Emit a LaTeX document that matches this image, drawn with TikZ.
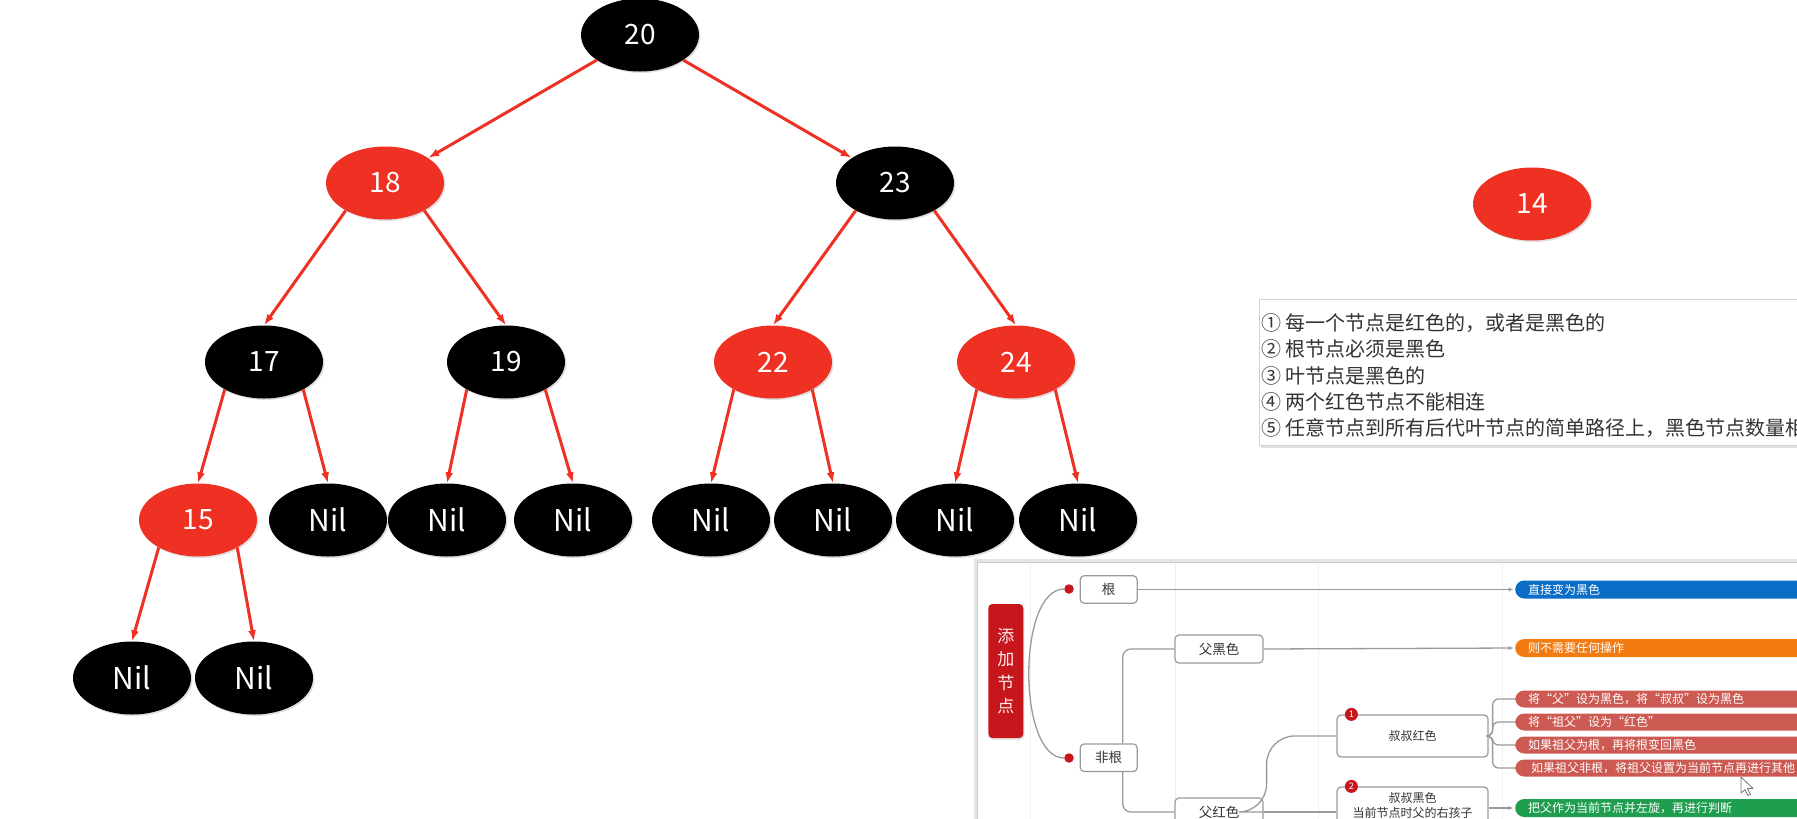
\documentclass[tikz,border=0pt]{standalone}
\usepackage{fontspec}
\setmainfont{Noto Sans CJK SC}
\usepackage{tikz}
\usetikzlibrary{arrows.meta,shapes.geometric,shadows}
\definecolor{rbred}{HTML}{EF3124}
\definecolor{mmgray}{HTML}{9A9A9A}
\definecolor{mmred}{HTML}{C8161D}
\definecolor{barblue}{HTML}{0B6DC6}
\definecolor{barorange}{HTML}{F27B12}
\definecolor{barsalmon}{HTML}{CC5952}
\definecolor{bargreen}{HTML}{1E9E4E}
\definecolor{textgray}{HTML}{333333}

\begin{document}
\begin{tikzpicture}[x=1pt,y=-1pt,
    rbnode/.style={ellipse,minimum width=118pt,minimum height=73pt,inner sep=0pt,text=white,
      font=\fontsize{28pt}{30pt}\selectfont,drop shadow={opacity=0.25,shadow xshift=1.5pt,shadow yshift=-1.5pt}},
    bnode/.style={rbnode,fill=black},
    rnode/.style={rbnode,fill=rbred},
    nil/.style={bnode,font=\fontsize{30pt}{32pt}\selectfont},
    link/.style={rbred,line width=3pt,-{Latex[length=11pt,width=8pt]}},
    mmline/.style={mmgray,line width=1.3pt},
    mmbox/.style={draw=mmgray,fill=white,rounded corners=4pt,line width=1.2pt,inner sep=0pt,
      text=textgray,font=\fontsize{13.5pt}{15pt}\selectfont},
    mmbar/.style={anchor=west,minimum height=18pt,text width=280pt,inner xsep=13pt,inner ysep=0pt,
      rounded corners=9pt,text=white,align=left,font=\fontsize{12pt}{13pt}\selectfont},
    dot/.style={circle,fill=mmred,minimum size=9.5pt,inner sep=0pt},
    badge/.style={circle,fill=mmred,text=white,inner sep=0pt,minimum size=13pt,font=\fontsize{9pt}{9pt}\selectfont},
    rule/.style={anchor=west,inner sep=0pt,text=textgray,font=\fontsize{20pt}{22pt}\selectfont}]
  \useasboundingbox (0,0) rectangle (1797,819);
  \clip (0,0) rectangle (1797,819);

  \node[bnode] (n20) at (640,35) {20};
  \node[rnode] (n18) at (385,183) {18};
  \node[bnode] (n23) at (895,183) {23};
  \node[bnode] (n17) at (264,362) {17};
  \node[bnode] (n19) at (506,362) {19};
  \node[rnode] (n22) at (773,362) {22};
  \node[rnode] (n24) at (1016,362) {24};
  \node[rnode] (n15) at (198,520) {15};
  \foreach \x/\n in {328/a,447/b,573/c,711/d,833/e,955/f,1078/g}
    \node[nil] (nil\n) at (\x,520) {Nil};
  \node[nil] (nilh) at (132,678) {Nil};
  \node[nil] (nili) at (254,678) {Nil};
  \node[rnode] (n14) at (1532,204) {14};

  \draw[link] (n20) -- (n18);
  \draw[link] (n20) -- (n23);
  \foreach \p/\l/\r in {n18/n17/n19,n23/n22/n24,n17/n15/nila,n19/nilb/nilc,n22/nild/nile,n24/nilf/nilg,n15/nilh/nili}{
    \draw[link] (\p.215) -- (\l.north);
    \draw[link] (\p.325) -- (\r.north);
  }

  \fill[black!12] (1261,302) rectangle (1812,448);
  \draw[draw=black!18,fill=white] (1259,299) rectangle (1810,445);
  \foreach \t [count=\k] in {① 每一个节点是红色的，或者是黑色的,② 根节点必须是黑色,③ 叶节点是黑色的,④ 两个红色节点不能相连,⑤ 任意节点到所有后代叶节点的简单路径上，黑色节点数量相}
    \node[rule] (rule\k) at (1261,{296.5+26.3*\k}) {\t};

  \fill[black!10] (974,559) rectangle (1820,840);
  \draw[draw=black!20,fill=white] (977,562) rectangle (1820,840);
  \foreach \x in {1030,1175,1318,1502}
    \draw[black!6] (\x,563) -- (\x,819);

  \node[fill=mmred,rounded corners=4pt,minimum width=35pt,minimum height=134pt,inner sep=0pt,
    text=red!8,align=center,font=\fontsize{17pt}{23.3pt}\selectfont,
    drop shadow={opacity=0.2,shadow xshift=1pt,shadow yshift=-2pt}] (add) at (1005.8,671) {添\\加\\节\\点};

  \node[mmbox,minimum width=57pt,minimum height=27.5pt] (gen) at (1108.7,589.5) {根};
  \node[mmbox,minimum width=57pt,minimum height=27.5pt] (feigen) at (1108.7,757.7) {非根};
  \node[mmbox,minimum width=88pt,minimum height=28pt] (fuB) at (1219,649) {父黑色};
  \node[mmbox,minimum width=88pt,minimum height=28pt] (fuR) at (1219,812) {父红色};
  \node[mmbox,minimum width=151pt,minimum height=42pt,font=\fontsize{12pt}{14pt}\selectfont] (uncleR) at (1412.5,736) {叔叔红色};
  \node[mmbox,minimum width=151pt,minimum height=37pt,align=center,font=\fontsize{12pt}{15pt}\selectfont] (uncleB) at (1412.5,805.5) {叔叔黑色\\当前节点时父的右孩子};
  \node[badge] (b1) at ([xshift=15pt]uncleR.north west) {1};
  \node[badge] (b2) at ([xshift=15pt]uncleB.north west) {2};

  \node[mmbar,fill=barblue] (tBlue) at (1515,589.5) {直接变为黑色};
  \node[mmbar,fill=barorange] (tOrange) at (1515,648) {则不需要任何操作};
  \node[mmbar,fill=barsalmon,minimum height=17pt] (r1) at (1515,699) {将“父”设为黑色，将“叔叔”设为黑色};
  \node[mmbar,fill=barsalmon,minimum height=17pt] (r2) at (1515,722) {将“祖父”设为“红色”};
  \node[mmbar,fill=barsalmon,minimum height=17pt] (r3) at (1515,745) {如果祖父为根，再将根变回黑色};
  \node[mmbar,fill=barsalmon,minimum height=17pt] (r4) at (1515,768) {\hspace{3pt}如果祖父非根，将祖父设置为当前节点再进行其他};
  \node[mmbar,fill=bargreen] (tGreen) at (1515,808) {把父作为当前节点并左旋，再进行判断};

  \node[dot] (dgen) at (1069,589) {};
  \node[dot] (dfei) at (1069,758) {};
  \draw[mmline] (dgen.west) .. controls (1017,589) and (1017,758) .. (dfei.west);

  \draw[mmline,-{Stealth[length=5pt,width=4pt]},shorten >=2pt] (gen.east) -- (tBlue.west);
  \draw[mmline,-{Stealth[length=5pt,width=4pt]},shorten >=2pt] (fuB.east) -- (tOrange.west);
  \draw[mmline,-{Stealth[length=5pt,width=4pt]},shorten >=2pt] (uncleB.east |- tGreen.west) -- (tGreen.west);
  \draw[mmline,rounded corners=8pt] ([xshift=-15pt]feigen.north east) |- (fuB.west);
  \draw[mmline,rounded corners=8pt] ([xshift=-15pt]feigen.south east) |- (fuR.west);
  \draw[mmline] (fuR.east) -- (uncleB.west |- fuR.east);
  \draw[mmline,rounded corners=28pt] (fuR.east) -- ++(3,0) |- (uncleR.west);
  \foreach \b in {r1,r2,r3,r4}
    \draw[mmline,rounded corners=6pt] (uncleR.east) -- ++(4,0) |- (\b.west);

  \draw[black!55,fill=white,line width=0.8pt,line join=round] (1741,777) -- (1741,793) -- (1745,789.5)
    -- (1748,795.5) -- (1750.5,794.5) -- (1747.5,788.5) -- (1753,788.5) -- cycle;
\end{tikzpicture}
\end{document}
